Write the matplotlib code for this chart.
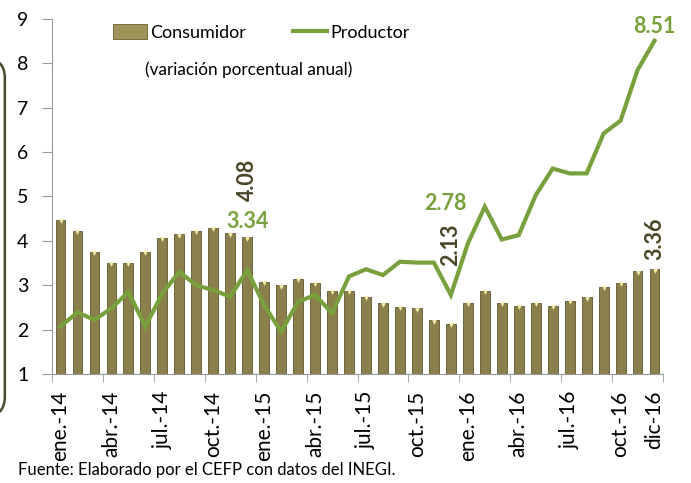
import matplotlib.pyplot as plt
import numpy as np
from matplotlib.patches import FancyBboxPatch, Patch
from matplotlib.lines import Line2D

plt.rcParams['font.family'] = ['Lato', 'DejaVu Sans']

meses = ['ene.-14', 'feb.-14', 'mar.-14', 'abr.-14', 'may.-14', 'jun.-14',
         'jul.-14', 'ago.-14', 'sep.-14', 'oct.-14', 'nov.-14', 'dic.-14',
         'ene.-15', 'feb.-15', 'mar.-15', 'abr.-15', 'may.-15', 'jun.-15',
         'jul.-15', 'ago.-15', 'sep.-15', 'oct.-15', 'nov.-15', 'dic.-15',
         'ene.-16', 'feb.-16', 'mar.-16', 'abr.-16', 'may.-16', 'jun.-16',
         'jul.-16', 'ago.-16', 'sep.-16', 'oct.-16', 'nov.-16', 'dic-16']
consumidor = [4.48, 4.23, 3.76, 3.50, 3.51, 3.75, 4.07, 4.15, 4.22, 4.30, 4.17, 4.08,
              3.07, 3.00, 3.14, 3.06, 2.88, 2.87, 2.74, 2.59, 2.52, 2.48, 2.21, 2.13,
              2.61, 2.87, 2.60, 2.54, 2.60, 2.54, 2.65, 2.73, 2.97, 3.06, 3.31, 3.36]
productor = [2.07, 2.39, 2.22, 2.48, 2.85, 2.07, 2.82, 3.30, 3.00, 2.89, 2.74, 3.34,
             2.55, 1.95, 2.63, 2.78, 2.37, 3.20, 3.36, 3.23, 3.53, 3.51, 3.51, 2.78,
             3.94, 4.77, 4.03, 4.13, 5.03, 5.63, 5.52, 5.52, 6.42, 6.71, 7.85, 8.51]

verde = '#78a03c'
oliva = '#8b7f4c'
oscuro = '#4a4526'

fig = plt.figure(figsize=(6.91, 4.83), dpi=100)
ax = fig.add_axes([0.0753, 0.2257, 0.8842, 0.735])

x = np.arange(len(meses))
ax.bar(x, np.array(consumidor) - 1, bottom=1, width=0.58, color=oliva,
       edgecolor='#5e5632', linewidth=0.6, zorder=2)
ax.scatter(x, np.array(consumidor) - 0.03, marker='v', s=12, color='#f3eaa8', zorder=3, linewidths=0)
ax.plot(x, productor, color=verde, lw=3, solid_joinstyle='miter', zorder=4)

ax.set_xlim(-0.5, len(meses) - 0.5)
ax.set_ylim(1, 9)
ax.set_yticks(range(1, 10))

# tick labels every 3 months, tick marks on category boundaries
lab_idx = list(range(0, 36, 3)) + [35]
ax.set_xticks(lab_idx)
ax.set_xticklabels([meses[i] for i in lab_idx], rotation=90, fontsize=15)
ax.tick_params(axis='x', length=0, pad=12)
ax.set_xticks(np.arange(-0.5, 36, 3), minor=True)
ax.tick_params(axis='x', which='minor', length=6, color='#999999', direction='out')
ax.tick_params(axis='y', labelsize=14, length=7, pad=10, color='#999999')

for s in ['top', 'right']:
    ax.spines[s].set_visible(False)
for s in ['left', 'bottom']:
    ax.spines[s].set_color('#999999')

# data labels
lb = dict(fontsize=15.5, fontweight='bold')
ax.text(11, consumidor[11] + 0.82, '4.08', rotation=90, ha='center', va='bottom', color=oscuro, **lb)
ax.text(11, 4.2, '3.34', ha='center', va='bottom', color=verde, **lb)
ax.text(23, productor[23] + 0.65, '2.13', rotation=90, ha='center', va='bottom', color=oscuro, **lb)
ax.text(22.7, 4.6, '2.78', ha='center', va='bottom', color=verde, **lb)
ax.text(35, consumidor[35] + 0.2, '3.36', rotation=90, ha='center', va='bottom', color=oscuro, **lb)
ax.text(35, 8.6, '8.51', ha='center', va='bottom', color=verde, **lb)

handles = [Patch(facecolor='#9f935a', edgecolor='#6b6136', linewidth=0.6),
           Line2D([0], [0], color=verde, lw=3)]
fig.legend(handles, ['Consumidor', 'Productor'], ncol=2, frameon=False,
           loc='center left', bbox_to_anchor=(0.164, 0.932), fontsize=13,
           handlelength=1.85, handleheight=0.9, handletextpad=0.2, columnspacing=2.6,
           borderaxespad=0, borderpad=0)
fig.text(0.21, 0.855, '(variación porcentual anual)', fontsize=12.3, va='center')

fig.text(0.026, 0.027, 'Fuente: Elaborado por el CEFP con datos del INEGI.', fontsize=12, va='center')

frame = FancyBboxPatch((-0.3, 0.137), 0.307, 0.743, boxstyle='round,pad=0,rounding_size=0.03',
                       transform=fig.transFigure, fill=False, edgecolor='#4b4a33', lw=1.8,
                       mutation_aspect=1.4)
fig.patches.append(frame)

fig.savefig('out.png', dpi=100)
